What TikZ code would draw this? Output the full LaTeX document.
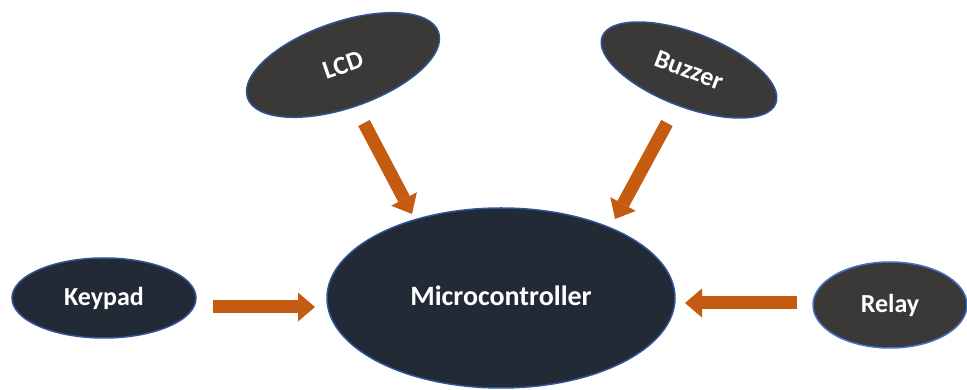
\documentclass[tikz,border=0pt]{standalone}
\usepackage{fontspec}
\setmainfont{Carlito}
\usetikzlibrary{shapes.geometric,arrows.meta}
\definecolor{navyfill}{HTML}{222A35}
\definecolor{grayfill}{HTML}{3B3838}
\definecolor{blueline}{HTML}{2F5597}
\definecolor{lightblueline}{HTML}{4472C4}
\definecolor{arroworange}{HTML}{C55A11}
\tikzset{
  blob/.style={ellipse, draw=blueline, line width=1.5pt, inner sep=0pt,
    text=white, font=\bfseries\fontsize{26}{30}\selectfont},
  navyblob/.style={blob, fill=navyfill},
  grayblob/.style={blob, fill=grayfill},
  bigarrow/.style={draw=arroworange, line width=13pt,
    -{Triangle[width=29pt,length=17pt,line width=0pt]}}
}
\begin{document}
\begin{tikzpicture}[x=1pt,y=1pt]
\useasboundingbox (0,0) rectangle (967,390);
\node[navyblob, minimum width=348pt, minimum height=180pt,
  font=\bfseries\fontsize{28}{32}\selectfont] (mc) at (501,92) {\raisebox{5pt}{Microcontroller}};
\node[navyblob, minimum width=184pt, minimum height=80pt] (keypad) at (104,92) {Keypad};
\node[grayblob, draw=lightblueline, minimum width=154pt, minimum height=86pt] (relay) at (890,85) {Relay};
\node[grayblob, rotate=19, minimum width=202pt, minimum height=86pt] (lcd) at (343,325) {LCD};
\node[grayblob, rotate=-21, minimum width=186pt, minimum height=74pt] (buzzer) at (689,320) {Buzzer};
\coordinate (k1) at (213,83);
\coordinate (k2) at (315,83);
\coordinate (r1) at (797,87);
\coordinate (r2) at (685,87);
\coordinate (l1) at (364,267);
\coordinate (l2) at (412,176);
\coordinate (b1) at (667,267);
\coordinate (b2) at (615,171);
\draw[bigarrow] (k1) -- (k2);
\draw[bigarrow] (r1) -- (r2);
\draw[bigarrow] (l1) -- (l2);
\draw[bigarrow] (b1) -- (b2);
\end{tikzpicture}
\end{document}
